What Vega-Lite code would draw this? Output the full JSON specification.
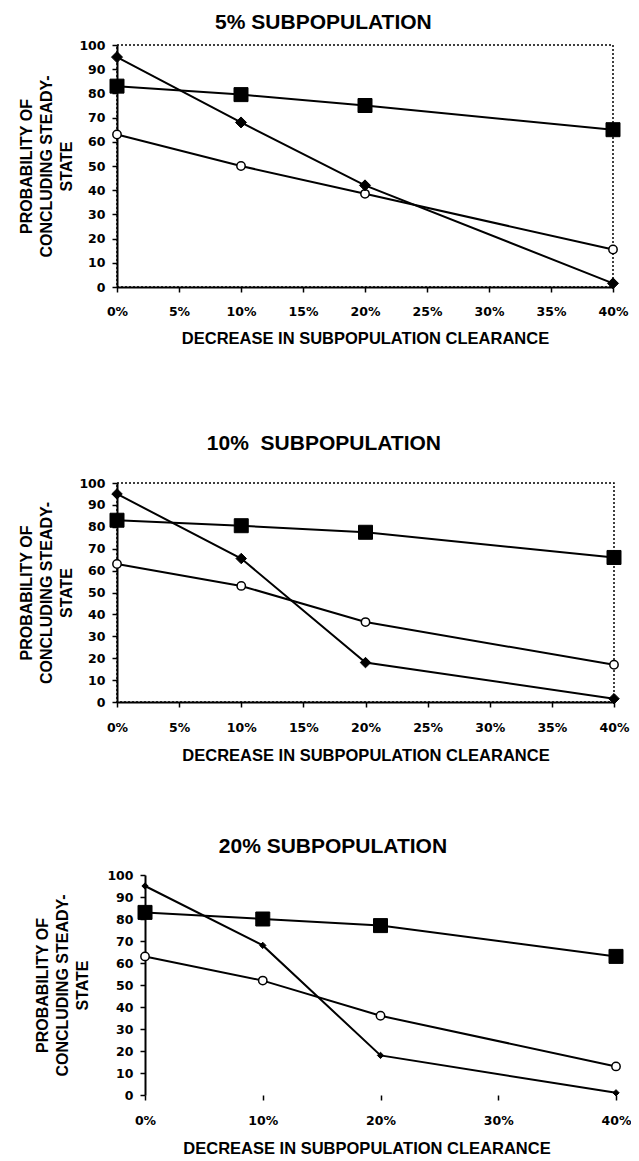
{
  "$schema": "https://vega.github.io/schema/vega-lite/v6.json",
  "padding": {"left": 18, "top": 11, "right": 0, "bottom": 0},
  "spacing": 71,
  "background": "white",
  "config": {
    "font": "Liberation Sans",
    "view": {"stroke": null},
    "axis": {
      "domainColor": "black", "domainWidth": 2,
      "tickColor": "black", "tickWidth": 1.5, "tickSize": 5,
      "labelColor": "black", "labelFont": "DejaVu Sans", "labelFontWeight": "bold", "labelFontSize": 12.5,
      "titleColor": "black", "titleFont": "Liberation Sans", "titleFontWeight": "bold",
      "grid": false
    },
    "title": {"font": "Liberation Sans", "fontSize": 21, "fontWeight": "bold", "color": "black", "frame": "bounds"}
  },
  "vconcat": [
    {
      "title": {"text": "5% SUBPOPULATION", "offset": 6},
      "width": 496, "height": 242,
      "view": {"stroke": "black", "strokeDash": [2, 2], "strokeWidth": 1.5},
      "data": {"values": [
        {"series": "A", "decrease": 0, "prob": 95}, {"series": "A", "decrease": 10, "prob": 68}, {"series": "A", "decrease": 20, "prob": 42}, {"series": "A", "decrease": 40, "prob": 1.5},
        {"series": "B", "decrease": 0, "prob": 83}, {"series": "B", "decrease": 10, "prob": 79.5}, {"series": "B", "decrease": 20, "prob": 75}, {"series": "B", "decrease": 40, "prob": 65},
        {"series": "C", "decrease": 0, "prob": 63}, {"series": "C", "decrease": 10, "prob": 50}, {"series": "C", "decrease": 20, "prob": 38.5}, {"series": "C", "decrease": 40, "prob": 15.5}
      ]},
      "encoding": {
        "x": {"field": "decrease", "type": "quantitative", "scale": {"domain": [0, 40], "nice": false, "zero": false},
          "axis": {"values": [0, 5, 10, 15, 20, 25, 30, 35, 40], "labelExpr": "datum.value + '%'", "labelFlush": false, "labelPadding": 13,
            "title": ["DECREASE IN SUBPOPULATION CLEARANCE", " "], "titleFontSize": 16.5, "titleLineHeight": 12.5, "titlePadding": 13}},
        "y": {"field": "prob", "type": "quantitative", "scale": {"domain": [0, 100], "nice": false},
          "axis": {"values": [0, 10, 20, 30, 40, 50, 60, 70, 80, 90, 100], "labelPadding": 7, "labelFlush": false,
            "title": ["PROBABILITY OF", "CONCLUDING STEADY-", "STATE"], "titleFontSize": 16, "titleLineHeight": 20, "titlePadding": 4}}
      },
      "layer": [
        {"mark": {"type": "line", "color": "black", "strokeWidth": 2}, "encoding": {"detail": {"field": "series"}}},
        {"transform": [{"filter": "datum.series == 'C'"}], "mark": {"type": "point", "shape": "circle", "size": 70, "filled": true, "fill": "white", "stroke": "black", "strokeWidth": 1.5, "opacity": 1}},
        {"transform": [{"filter": "datum.series == 'A'"}], "mark": {"type": "point", "shape": "diamond", "size": 121, "filled": true, "fill": "black", "stroke": "black", "strokeWidth": 1, "opacity": 1}},
        {"transform": [{"filter": "datum.series == 'B'"}], "mark": {"type": "point", "shape": "square", "size": 196, "filled": true, "fill": "black", "stroke": "black", "strokeWidth": 1, "opacity": 1}}
      ]
    },
    {
      "title": {"text": "10%\u00a0 SUBPOPULATION", "offset": 23},
      "width": 497, "height": 219,
      "view": {"stroke": "black", "strokeDash": [2, 2], "strokeWidth": 1.5},
      "data": {"values": [
        {"series": "A", "decrease": 0, "prob": 95}, {"series": "A", "decrease": 10, "prob": 65.5}, {"series": "A", "decrease": 20, "prob": 18}, {"series": "A", "decrease": 40, "prob": 1.5},
        {"series": "B", "decrease": 0, "prob": 83}, {"series": "B", "decrease": 10, "prob": 80.5}, {"series": "B", "decrease": 20, "prob": 77.5}, {"series": "B", "decrease": 40, "prob": 66},
        {"series": "C", "decrease": 0, "prob": 63}, {"series": "C", "decrease": 10, "prob": 53}, {"series": "C", "decrease": 20, "prob": 36.5}, {"series": "C", "decrease": 40, "prob": 17}
      ]},
      "encoding": {
        "x": {"field": "decrease", "type": "quantitative", "scale": {"domain": [0, 40], "nice": false, "zero": false},
          "axis": {"values": [0, 5, 10, 15, 20, 25, 30, 35, 40], "labelExpr": "datum.value + '%'", "labelFlush": false, "labelPadding": 14,
            "title": "DECREASE IN SUBPOPULATION CLEARANCE", "titleFontSize": 16.5, "titlePadding": 14}},
        "y": {"field": "prob", "type": "quantitative", "scale": {"domain": [0, 100], "nice": false},
          "axis": {"values": [0, 10, 20, 30, 40, 50, 60, 70, 80, 90, 100], "labelPadding": 7, "labelFlush": false,
            "title": ["PROBABILITY OF", "CONCLUDING STEADY-", "STATE"], "titleFontSize": 16, "titleLineHeight": 20, "titlePadding": 4}}
      },
      "layer": [
        {"mark": {"type": "line", "color": "black", "strokeWidth": 2}, "encoding": {"detail": {"field": "series"}}},
        {"transform": [{"filter": "datum.series == 'C'"}], "mark": {"type": "point", "shape": "circle", "size": 70, "filled": true, "fill": "white", "stroke": "black", "strokeWidth": 1.5, "opacity": 1}},
        {"transform": [{"filter": "datum.series == 'A'"}], "mark": {"type": "point", "shape": "diamond", "size": 110, "filled": true, "fill": "black", "stroke": "black", "strokeWidth": 1, "opacity": 1}},
        {"transform": [{"filter": "datum.series == 'B'"}], "mark": {"type": "point", "shape": "square", "size": 196, "filled": true, "fill": "black", "stroke": "black", "strokeWidth": 1, "opacity": 1}}
      ]
    },
    {
      "title": {"text": "20% SUBPOPULATION", "offset": 12},
      "width": 499, "height": 220,
      "data": {"values": [
        {"series": "A", "decrease": 0, "prob": 95}, {"series": "A", "decrease": 10, "prob": 68}, {"series": "A", "decrease": 20, "prob": 18}, {"series": "A", "decrease": 40, "prob": 1},
        {"series": "B", "decrease": 0, "prob": 83}, {"series": "B", "decrease": 10, "prob": 80}, {"series": "B", "decrease": 20, "prob": 77}, {"series": "B", "decrease": 40, "prob": 63},
        {"series": "C", "decrease": 0, "prob": 63}, {"series": "C", "decrease": 10, "prob": 52}, {"series": "C", "decrease": 20, "prob": 36}, {"series": "C", "decrease": 40, "prob": 13}
      ]},
      "encoding": {
        "x": {"field": "decrease", "type": "quantitative", "scale": {"domain": [-2.38, 40], "nice": false, "zero": false},
          "axis": {"values": [0, 10, 20, 30, 40], "labelExpr": "datum.value + '%'", "labelFlush": false, "labelPadding": 14, "domain": false,
            "title": "DECREASE IN SUBPOPULATION CLEARANCE", "titleFontSize": 16.5, "titlePadding": 14}},
        "y": {"field": "prob", "type": "quantitative", "scale": {"domain": [0, 100], "nice": false},
          "axis": {"values": [0, 10, 20, 30, 40, 50, 60, 70, 80, 90, 100], "labelPadding": 7, "labelFlush": false, "offset": -28,
            "title": ["PROBABILITY OF", "CONCLUDING STEADY-", "STATE"], "titleFontSize": 16, "titleLineHeight": 20, "titlePadding": 16}}
      },
      "layer": [
        {"data": {"values": [{}]}, "mark": {"type": "rule", "color": "black", "strokeWidth": 2},
          "encoding": {"x": {"datum": 0, "type": "quantitative"}, "x2": {"datum": 40}, "y": {"datum": 0, "type": "quantitative"}}},
        {"data": {"values": [{}]}, "mark": {"type": "rule", "color": "black", "strokeWidth": 1.5, "strokeDash": [2, 2]},
          "encoding": {"x": {"datum": 0, "type": "quantitative"}, "x2": {"datum": 40}, "y": {"datum": 100, "type": "quantitative"}}},
        {"data": {"values": [{}]}, "mark": {"type": "rule", "color": "black", "strokeWidth": 1.5, "strokeDash": [2, 2]},
          "encoding": {"x": {"datum": 40, "type": "quantitative"}, "y": {"datum": 0, "type": "quantitative"}, "y2": {"datum": 100}}},
        {"mark": {"type": "line", "color": "black", "strokeWidth": 2}, "encoding": {"detail": {"field": "series"}}},
        {"transform": [{"filter": "datum.series == 'C'"}], "mark": {"type": "point", "shape": "circle", "size": 70, "filled": true, "fill": "white", "stroke": "black", "strokeWidth": 1.5, "opacity": 1}},
        {"transform": [{"filter": "datum.series == 'A'"}], "mark": {"type": "point", "shape": "diamond", "size": 40, "filled": true, "fill": "black", "stroke": "black", "strokeWidth": 1, "opacity": 1}},
        {"transform": [{"filter": "datum.series == 'B'"}], "mark": {"type": "point", "shape": "square", "size": 196, "filled": true, "fill": "black", "stroke": "black", "strokeWidth": 1, "opacity": 1}}
      ]
    }
  ]
}
